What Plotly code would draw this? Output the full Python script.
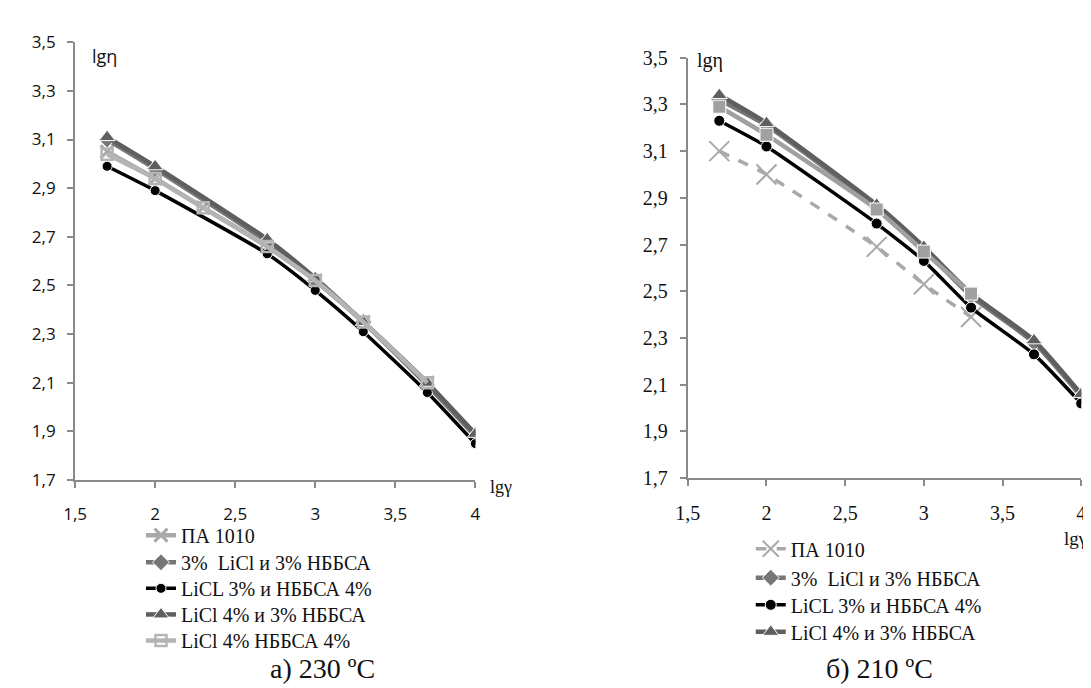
import plotly.graph_objects as go

# ---------------- data ----------------
x_ticks = [1.5, 2, 2.5, 3, 3.5, 4]
x_tick_labels = ["1,5", "2", "2,5", "3", "3,5", "4"]
y_ticks = [1.7, 1.9, 2.1, 2.3, 2.5, 2.7, 2.9, 3.1, 3.3, 3.5]
y_tick_labels = ["1,7", "1,9", "2,1", "2,3", "2,5", "2,7", "2,9", "3,1", "3,3", "3,5"]

series_names = ["ПА 1010", "3%  LiCl и 3% НББСА", "LiCL 3% и НББСА 4%",
                "LiCl 4% и 3% НББСА", "LiCl 4% НББСА 4%"]

# a) 230 C
lg_gamma_a = [1.7, 2, 2.7, 3, 3.3, 3.7, 4]
lg_gamma_a_pa = [1.7, 2, 2.3, 2.7, 3, 3.3, 3.7]
a_pa1010 = [3.05, 2.94, 2.82, 2.66, 2.52, 2.35, 2.10]
a_licl3_nbbsa3 = [3.10, 2.98, 2.68, 2.52, 2.35, 2.09, 1.88]
a_licl3_nbbsa4 = [2.99, 2.89, 2.63, 2.48, 2.31, 2.06, 1.85]
a_licl4_nbbsa3 = [3.11, 2.99, 2.69, 2.53, 2.35, 2.10, 1.89]
a_licl4_nbbsa4 = [3.04, 2.94, 2.82, 2.66, 2.52, 2.35, 2.10]

# б) 210 C
lg_gamma_b = [1.7, 2, 2.7, 3, 3.3, 3.7, 4]
lg_gamma_b_pa = [1.7, 2, 2.7, 3, 3.3]
b_pa1010 = [3.10, 3.00, 2.69, 2.53, 2.39]
b_licl3_nbbsa3 = [3.32, 3.21, 2.86, 2.68, 2.48, 2.28, 2.05]
b_licl3_nbbsa4 = [3.23, 3.12, 2.79, 2.63, 2.43, 2.23, 2.02]
b_licl4_nbbsa3 = [3.34, 3.22, 2.87, 2.69, 2.49, 2.29, 2.06]
lg_gamma_b_sq = [1.7, 2, 2.7, 3, 3.3]
b_licl4_nbbsa4 = [3.29, 3.17, 2.85, 2.67, 2.49]

# ---------------- styles ----------------
SERIF = "Liberation Serif"
SANS = "Open Sans"
C_PA = "#a9a9a9"
C_DIA = "#767676"
C_CIR = "#000000"
C_TRI = "#5f5f5f"
C_SQ = "#b4b4b4"

W, H = 1091, 688


def px_x(p):
    return p / W


def px_y(p):
    return 1 - p / H


fig = go.Figure()


def add(xs, ys, name, color, symbol, msize, xa, ya, legend, width=4.5, dash="solid",
        showlegend=True, mline_color="white", mline_w=1):
    fig.add_trace(go.Scatter(
        x=xs, y=ys, name=name, mode="lines+markers",
        line=dict(color=color, width=width, dash=dash, shape="spline", smoothing=0.5),
        marker=dict(symbol=symbol, size=msize, color=color,
                    line=dict(color=mline_color, width=mline_w)),
        xaxis=xa, yaxis=ya, legend=legend, showlegend=showlegend))


# left chart
add(lg_gamma_a_pa, a_pa1010, series_names[0], C_PA, "x-thin-open", 13, "x", "y", "legend",
    mline_color=C_PA, mline_w=3)
add(lg_gamma_a, a_licl3_nbbsa3, series_names[1], C_DIA, "diamond", 13, "x", "y", "legend2")
add(lg_gamma_a, a_licl3_nbbsa4, series_names[2], C_CIR, "circle", 10, "x", "y", "legend3", width=3.5)
add(lg_gamma_a, a_licl4_nbbsa3, series_names[3], C_TRI, "triangle-up", 14, "x", "y", "legend4")
add(lg_gamma_a_pa, a_licl4_nbbsa4, series_names[4], C_SQ, "square-open", 11, "x", "y", "legend5",
    mline_color=C_SQ, mline_w=2.5)

# right chart
add(lg_gamma_b_pa, b_pa1010, series_names[0], C_PA, "x-thin-open", 20, "x2", "y2", "legend6",
    width=3.5, dash="dash", mline_color=C_PA, mline_w=2)
add(lg_gamma_b, b_licl3_nbbsa3, series_names[1], C_DIA, "diamond", 13, "x2", "y2", "legend7")
add(lg_gamma_b, b_licl3_nbbsa4, series_names[2], C_CIR, "circle", 11, "x2", "y2", "legend8", width=3.5)
add(lg_gamma_b, b_licl4_nbbsa3, series_names[3], C_TRI, "triangle-up", 14, "x2", "y2", "legend9")
add(lg_gamma_b_sq, b_licl4_nbbsa4, series_names[4], "#a0a0a0", "square", 13, "x2", "y2", "legend9",
    showlegend=False)

axis_common = dict(showgrid=False, zeroline=False, showline=True, linecolor="#8a8a8a",
                   linewidth=2, ticks="outside", ticklen=6, tickwidth=2, tickcolor="#8a8a8a")
inner_ticks = dict(showgrid=False, zeroline=False, showline=False, ticks="inside", ticklen=6,
                   tickwidth=2, tickcolor="#8a8a8a", showticklabels=False)

legend_common = dict(xanchor="left", yanchor="middle", bgcolor="rgba(0,0,0,0)",
                     font=dict(family=SERIF, size=20, color="#111"), itemwidth=30)
left_rows = [533, 561, 588, 615, 642]
right_rows = [547, 577, 605, 633]
legends = {}
for i, yy in enumerate(left_rows):
    key = "legend" if i == 0 else f"legend{i + 1}"
    legends[key] = dict(x=px_x(122), y=px_y(yy), **legend_common)
for i, yy in enumerate(right_rows):
    legends[f"legend{i + 6}"] = dict(x=px_x(742), y=px_y(yy), **legend_common)

fig.update_layout(
    width=W, height=H, margin=dict(l=0, r=0, t=0, b=0),
    paper_bgcolor="white", plot_bgcolor="white",
    xaxis=dict(domain=[px_x(55), px_x(462)], range=[1.5, 4], anchor="y",
               tickvals=x_ticks, ticktext=x_tick_labels, ticklabelstandoff=12,
               tickfont=dict(family=SANS, size=17, color="#111"), **axis_common),
    yaxis=dict(domain=[px_y(476), px_y(23)], range=[1.7, 3.5], anchor="x",
               tickvals=y_ticks, ticktext=y_tick_labels, ticklabelstandoff=8,
               tickfont=dict(family=SANS, size=17, color="#111"), **axis_common),
    xaxis2=dict(domain=[px_x(678), px_x(1078)], range=[1.5, 4], anchor="y2",
                tickvals=x_ticks, ticktext=x_tick_labels, ticklabelstandoff=10,
                tickfont=dict(family=SERIF, size=20, color="#111"), **axis_common),
    yaxis2=dict(domain=[px_y(474), px_y(39)], range=[1.7, 3.5], anchor="x2",
                tickvals=y_ticks, ticktext=y_tick_labels, ticklabelstandoff=8,
                tickfont=dict(family=SERIF, size=20, color="#111"), **axis_common),
    xaxis3=dict(overlaying="x", anchor="y", range=[1.5, 4], tickvals=x_ticks, **inner_ticks),
    yaxis3=dict(overlaying="y", anchor="x", range=[1.7, 3.5], tickvals=y_ticks, **inner_ticks),
    xaxis4=dict(overlaying="x2", anchor="y2", range=[1.5, 4], tickvals=x_ticks, **inner_ticks),
    yaxis4=dict(overlaying="y2", anchor="x2", range=[1.7, 3.5], tickvals=y_ticks, **inner_ticks),
    annotations=[
        dict(text="lgη", x=px_x(70), y=px_y(23), xref="paper", yref="paper",
             xanchor="left", yanchor="top", showarrow=False,
             font=dict(family=SANS, size=18, color="#111")),
        dict(text="lgγ", x=px_x(475), y=px_y(483), xref="paper", yref="paper",
             xanchor="left", yanchor="middle", showarrow=False,
             font=dict(family=SERIF, size=18, color="#111")),
        dict(text="lgη", x=px_x(685), y=px_y(28), xref="paper", yref="paper",
             xanchor="left", yanchor="top", showarrow=False,
             font=dict(family=SERIF, size=20, color="#111")),
        dict(text="lgγ", x=px_x(1086), y=px_y(523), xref="paper", yref="paper",
             xanchor="right", yanchor="top", showarrow=False,
             font=dict(family=SERIF, size=19, color="#111")),
        dict(text="а) 230 ºC", x=px_x(307), y=px_y(671), xref="paper", yref="paper",
             xanchor="center", yanchor="middle", showarrow=False,
             font=dict(family=SERIF, size=28, color="#111")),
        dict(text="б) 210 ºC", x=px_x(873), y=px_y(671), xref="paper", yref="paper",
             xanchor="center", yanchor="middle", showarrow=False,
             font=dict(family=SERIF, size=28, color="#111")),
    ],
    **legends,
)

fig.write_html("out.html")
